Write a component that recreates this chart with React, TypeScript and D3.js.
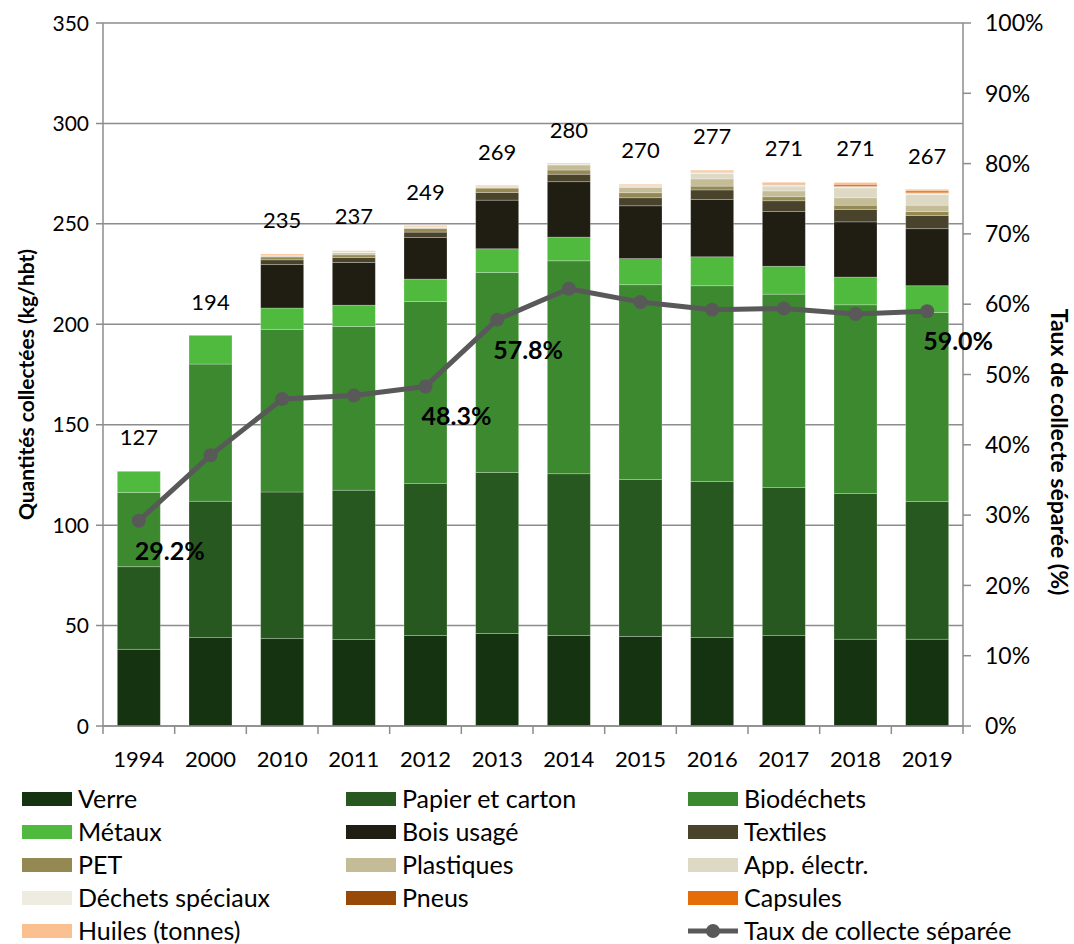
import { useEffect } from 'react';
import * as d3 from 'd3';

const years = ['1994', '2000', '2010', '2011', '2012', '2013', '2014', '2015', '2016', '2017', '2018', '2019'];

const seriesNames = [
  'Verre', 'Papier et carton', 'Biodéchets', 'Métaux', 'Bois usagé', 'Textiles', 'PET',
  'Plastiques', 'App. électr.', 'Déchets spéciaux', 'Pneus', 'Capsules', 'Huiles (tonnes)'
];

const seriesColors = [
  '#163311', '#27581f', '#3c8930', '#4fba3e', '#201e12', '#4a432b', '#948953',
  '#c4bc97', '#ddd9c4', '#eeece1', '#984807', '#e46c0a', '#fac090'
];

// kg/hbt per year, one array per series (same order as years)
const verre = [38.2, 44.0, 43.5, 43.1, 45.1, 46.1, 45.1, 44.6, 44.1, 45.0, 43.2, 43.2];
const papier = [41.1, 67.9, 73.0, 74.3, 75.7, 80.1, 80.5, 78.1, 77.6, 73.8, 72.5, 68.6];
const biodechets = [36.9, 68.3, 81.0, 81.5, 90.6, 99.6, 106.0, 97.0, 97.5, 96.2, 94.0, 94.1];
const metaux = [10.6, 14.3, 10.6, 10.6, 11.1, 11.8, 11.8, 13.0, 14.4, 13.9, 13.8, 13.3];
const bois = [0, 0, 21.6, 21.3, 20.7, 24.2, 27.6, 26.3, 28.6, 27.2, 27.5, 28.4];
const textiles = [0, 0, 2.4, 2.5, 2.7, 3.8, 3.7, 4.0, 4.7, 5.4, 6.2, 6.5];
const pet = [0, 0, 1.4, 1.3, 1.7, 2.2, 2.1, 2.5, 1.9, 2.0, 2.1, 2.0];
const plastiques = [0, 0, 0.4, 0.9, 0.5, 0.4, 2.5, 2.7, 3.6, 2.9, 3.7, 3.2];
const appElectr = [0, 0, 0.2, 0.3, 0.3, 0.3, 0.4, 0.6, 2.6, 2.4, 4.9, 5.3];
const speciaux = [0, 0, 0.2, 0.2, 0.2, 0.2, 0.2, 0.3, 0.7, 0.8, 0.7, 0.7];
const pneus = [0, 0, 0.1, 0.1, 0.1, 0.1, 0.1, 0.1, 0.1, 0.1, 0.2, 0.2];
const capsules = [0, 0, 0, 0, 0, 0, 0, 0, 0.1, 0.5, 0.9, 0.9];
const huiles = [0, 0, 0.6, 0.5, 0.5, 0.4, 0.3, 0.5, 0.8, 0.5, 0.9, 0.8];

const seriesValues = [verre, papier, biodechets, metaux, bois, textiles, pet, plastiques, appElectr, speciaux, pneus, capsules, huiles];

const totals = [127, 194, 235, 237, 249, 269, 280, 270, 277, 271, 271, 267];

// taux de collecte séparée (%)
const taux = [29.2, 38.5, 46.5, 47.0, 48.3, 57.8, 62.2, 60.3, 59.2, 59.4, 58.6, 59.0];
const tauxLabelled = ['1994', '2012', '2013', '2019'];

const leftTicks = [0, 50, 100, 150, 200, 250, 300, 350];
const rightTicks = [0, 10, 20, 30, 40, 50, 60, 70, 80, 90, 100];

const W = 1074;
const H = 944;
const plot = { left: 103, right: 963, top: 23, bottom: 726 };
const FONT = "Lato, 'Open Sans', sans-serif";
const GRID = '#8c8c8c';
const LINE = '#595959';

export default function App() {
  useEffect(() => {
    document.body.style.margin = '0';
  }, []);

  const x = d3.scaleBand<string>()
    .domain(years)
    .range([plot.left, plot.right])
    .paddingInner(0.4)
    .paddingOuter(0.2);
  const step = x.step();
  const y = d3.scaleLinear().domain([0, 350]).range([plot.bottom, plot.top]);
  const yr = d3.scaleLinear().domain([0, 100]).range([plot.bottom, plot.top]);

  const rows = years.map((yr0, i) => {
    const row: Record<string, number | string> = { year: yr0 };
    seriesNames.forEach((n, s) => { row[n] = seriesValues[s][i]; });
    return row;
  });
  const stacked = d3.stack<Record<string, number | string>>()
    .keys(seriesNames)
    .value((d, k) => d[k] as number)(rows);

  const cx = (yv: string) => (x(yv) ?? 0) + x.bandwidth() / 2;
  const linePath = d3.line<number>()
    .x((_, i) => cx(years[i]))
    .y(d => yr(d))(taux) ?? '';

  const legendCols = [22, 346, 688];
  const legendRow0 = 799;
  const legendDy = 33;

  return (
    <svg width={W} height={H} style={{ display: 'block', background: '#fff' }} fontFamily={FONT}>
      {/* gridlines */}
      {leftTicks.map(t => (
        <line key={'g' + t} x1={plot.left - 7} x2={plot.right} y1={y(t)} y2={y(t)} stroke={GRID} strokeWidth={1.5} />
      ))}
      {/* left axis */}
      <line x1={plot.left} x2={plot.left} y1={plot.top} y2={plot.bottom} stroke={GRID} strokeWidth={1.5} />
      {leftTicks.map(t => (
        <text key={'lt' + t} x={89} y={y(t)} dy="0.36em" textAnchor="end" fontSize={21} fill="#000">{t}</text>
      ))}
      {/* right axis */}
      <line x1={plot.right} x2={plot.right} y1={plot.top} y2={plot.bottom} stroke={GRID} strokeWidth={1.5} />
      {rightTicks.map(t => (
        <g key={'rt' + t}>
          <line x1={plot.right} x2={plot.right + 8} y1={yr(t)} y2={yr(t)} stroke={GRID} strokeWidth={1.5} />
          <text x={985} y={yr(t)} dy="0.36em" textAnchor="start" fontSize={23} fill="#000">{t}%</text>
        </g>
      ))}
      {/* bars */}
      {stacked.map((layer, s) => (
        <g key={layer.key} fill={seriesColors[s]}>
          {layer.map((d, i) => (
            d[1] - d[0] > 0 ? (
              <rect key={i} x={x(years[i])} width={x.bandwidth()} y={y(d[1])} height={y(d[0]) - y(d[1])}
                stroke="rgba(255,255,255,0.3)" strokeWidth={0.8} />
            ) : null
          ))}
        </g>
      ))}
      {/* bottom axis */}
      <line x1={plot.left} x2={plot.right} y1={plot.bottom} y2={plot.bottom} stroke={GRID} strokeWidth={1.5} />
      {d3.range(years.length + 1).map(i => (
        <line key={'xt' + i} x1={plot.left + i * step} x2={plot.left + i * step} y1={plot.bottom} y2={plot.bottom + 8} stroke={GRID} strokeWidth={1.5} />
      ))}
      {years.map(yv => (
        <text key={'xl' + yv} x={cx(yv)} y={767} textAnchor="middle" fontSize={22} fill="#000">{yv}</text>
      ))}
      {/* totals */}
      {years.map((yv, i) => (
        <text key={'tot' + yv} x={cx(yv)} y={y(totals[i]) - 26} textAnchor="middle" fontSize={22} fill="#000">{totals[i]}</text>
      ))}
      {/* rate line */}
      <path d={linePath} fill="none" stroke={LINE} strokeWidth={5} strokeLinejoin="round" />
      {taux.map((v, i) => (
        <circle key={'m' + i} cx={cx(years[i])} cy={yr(v)} r={7} fill={LINE} />
      ))}
      {taux.map((v, i) => (
        tauxLabelled.includes(years[i]) ? (
          <text key={'tl' + i} x={cx(years[i]) - 4} y={yr(v) + 39} fontSize={25} fontWeight="bold" fill="#000">{v.toFixed(1)}%</text>
        ) : null
      ))}
      {/* axis titles */}
      <text transform={`translate(34,${(plot.top + plot.bottom) / 2 + 10}) rotate(-90)`} textAnchor="middle" fontSize={21} fontWeight="bold" fill="#000">
        Quantités collectées (kg/hbt)
      </text>
      <text transform={`translate(1051,452) rotate(90)`} textAnchor="middle" fontSize={23} fontWeight="bold" fill="#000">
        Taux de collecte séparée (%)
      </text>
      {/* legend */}
      {seriesNames.map((n, s) => {
        const lx = legendCols[s % 3];
        const ly = legendRow0 + Math.floor(s / 3) * legendDy;
        return (
          <g key={'lg' + n}>
            <rect x={lx} y={ly - 7} width={50} height={14} fill={seriesColors[s]} />
            <text x={lx + 56} y={ly} dy="0.36em" fontSize={25} fill="#000">{n}</text>
          </g>
        );
      })}
      <g>
        <line x1={legendCols[2]} x2={legendCols[2] + 50} y1={legendRow0 + 4 * legendDy} y2={legendRow0 + 4 * legendDy} stroke={LINE} strokeWidth={5} />
        <circle cx={legendCols[2] + 25} cy={legendRow0 + 4 * legendDy} r={7} fill={LINE} />
        <text x={legendCols[2] + 56} y={legendRow0 + 4 * legendDy} dy="0.36em" fontSize={25} fill="#000">Taux de collecte séparée</text>
      </g>
    </svg>
  );
}
